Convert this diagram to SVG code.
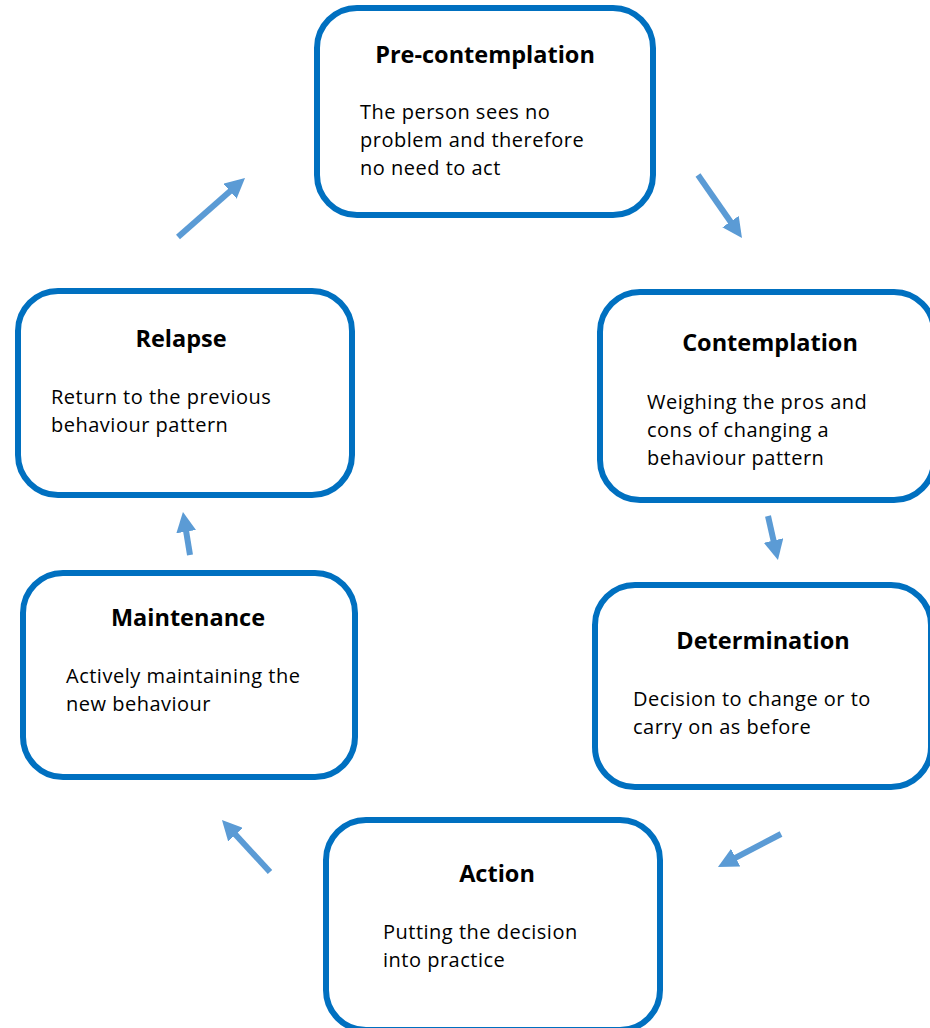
<svg xmlns="http://www.w3.org/2000/svg" width="930" height="1028" viewBox="0 0 930 1028">
<style>
.box{fill:#fff;stroke:#0070C0;stroke-width:6}
.t{font-family:"Open Sans","Noto Sans",sans-serif;font-weight:bold;font-size:23.5px;fill:#000;text-anchor:middle}
.b{font-family:"Open Sans","Noto Sans",sans-serif;font-size:20px;letter-spacing:0.5px;fill:#000}
.arr{stroke:#5B9BD5;stroke-width:6;fill:none;marker-end:url(#ah)}
</style>
<defs>
<marker id="ah" markerUnits="userSpaceOnUse" markerWidth="20" markerHeight="20" refX="8" refY="10" orient="auto">
<path d="M0,0 L20,10 L0,20 z" fill="#5B9BD5"/>
</marker>
</defs>
<rect width="930" height="1028" fill="#fff"/>
<g id="connectors">
<line class="arr" x1="178" y1="237" x2="236" y2="185.9"/>
<line class="arr" x1="698" y1="175" x2="735.1" y2="228.2"/>
<line class="arr" x1="768" y1="516" x2="775.3" y2="548.3"/>
<line class="arr" x1="781" y1="834" x2="728.6" y2="861.4"/>
<line class="arr" x1="270" y1="872" x2="230.1" y2="828.8"/>
<line class="arr" x1="190" y1="555" x2="184.9" y2="523.8"/>
</g>
<g id="precontemplation">
<rect class="box" x="317" y="8" width="336" height="207" rx="40"/>
<text class="t" x="485" y="63">Pre-contemplation</text>
<text class="b" x="360" y="119">The person sees no</text>
<text class="b" x="360" y="147">problem and therefore</text>
<text class="b" x="360" y="175">no need to act</text>
</g>
<g id="contemplation">
<rect class="box" x="600" y="292" width="334" height="208" rx="40"/>
<text class="t" x="770" y="351">Contemplation</text>
<text class="b" x="647" y="409">Weighing the pros and</text>
<text class="b" x="647" y="437">cons of changing a</text>
<text class="b" x="647" y="465">behaviour pattern</text>
</g>
<g id="relapse">
<rect class="box" x="18" y="291" width="334" height="204" rx="40"/>
<text class="t" x="181" y="347">Relapse</text>
<text class="b" x="51" y="404">Return to the previous</text>
<text class="b" x="51" y="432">behaviour pattern</text>
</g>
<g id="maintenance">
<rect class="box" x="23" y="573" width="332" height="204" rx="40"/>
<text class="t" x="188" y="626">Maintenance</text>
<text class="b" x="66" y="683">Actively maintaining the</text>
<text class="b" x="66" y="711">new behaviour</text>
</g>
<g id="determination">
<rect class="box" x="595" y="585" width="336" height="202" rx="40"/>
<text class="t" x="763" y="649">Determination</text>
<text class="b" x="633" y="706">Decision to change or to</text>
<text class="b" x="633" y="734">carry on as before</text>
</g>
<g id="action">
<rect class="box" x="326" y="820" width="334" height="210" rx="40"/>
<text class="t" x="497" y="882">Action</text>
<text class="b" x="383" y="939">Putting the decision</text>
<text class="b" x="383" y="967">into practice</text>
</g>
</svg>
